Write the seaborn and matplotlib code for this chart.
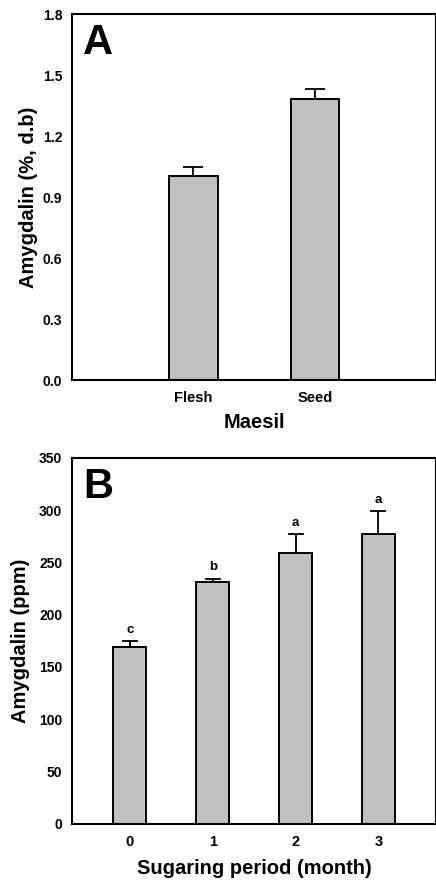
"""Amygdalin content in maesil flesh/seed and over the sugaring period."""

import matplotlib

matplotlib.use("Agg")
import matplotlib.pyplot as plt
import seaborn as sns


PARTS = ["Flesh", "Seed"]
PART_MEANS = [1.005, 1.385]
PART_ERRS = [0.043, 0.045]

MONTHS = ["0", "1", "2", "3"]
MONTH_MEANS = [169.5, 231.5, 258.5, 277.5]
MONTH_ERRS = [5.2, 2.8, 18.5, 21.5]
MONTH_LETTERS = ["c", "b", "a", "a"]

BAR_COLOR = "#c0c0c0"


def style_axis(ax, ymax, yticks, ticklabels_fmt):
    ax.set_ylim(0, ymax)
    ax.set_yticks(yticks)
    ax.set_yticklabels([ticklabels_fmt.format(t) for t in yticks])
    for spine in ax.spines.values():
        spine.set_visible(True)
        spine.set_linewidth(1.5)
        spine.set_color("black")
    ax.tick_params(axis="y", direction="in", length=4, width=1.3, pad=7,
                   labelsize=10)
    ax.tick_params(axis="x", length=0, pad=8, labelsize=10.5)
    for label in ax.get_xticklabels() + ax.get_yticklabels():
        label.set_fontweight("bold")


def draw_bars(ax, cats, means, errs, capsize):
    sns.barplot(x=cats, y=means, color=BAR_COLOR, saturation=1, width=0.4,
                edgecolor="black", linewidth=1.4, ax=ax, zorder=2)
    ax.errorbar(range(len(cats)), means, yerr=errs, fmt="none",
                ecolor="black", elinewidth=1.3, capsize=capsize,
                capthick=1.3, zorder=1)


sns.set_style("white")
plt.rcParams["font.family"] = ["Liberation Sans", "DejaVu Sans"]
plt.rcParams.update({
    "text.color": "black",
    "axes.labelcolor": "black",
    "xtick.color": "black",
    "ytick.color": "black",
})

fig = plt.figure(figsize=(4.36, 8.82), dpi=100)
ax_a = fig.add_axes([0.165, 0.569, 0.836, 0.415])
ax_b = fig.add_axes([0.165, 0.066, 0.836, 0.415])

# Panel A: flesh vs seed
draw_bars(ax_a, PARTS, PART_MEANS, PART_ERRS, capsize=7)
ax_a.set_xlim(-1, 2)
style_axis(ax_a, 1.8, [0.0, 0.3, 0.6, 0.9, 1.2, 1.5, 1.8], "{:.1f}")
ax_a.set_xlabel("Maesil", fontsize=14.5, fontweight="bold")
ax_a.set_ylabel("Amygdalin (%, d.b)", fontsize=14.5, fontweight="bold")
ax_a.xaxis.set_label_coords(0.5, -0.09)
ax_a.yaxis.set_label_coords(-0.094, 0.5)
ax_a.text(0.03, 0.975, "A", transform=ax_a.transAxes, fontsize=30,
          fontweight="bold", va="top", ha="left")

# Panel B: sugaring period
draw_bars(ax_b, MONTHS, MONTH_MEANS, MONTH_ERRS, capsize=5.5)
ax_b.set_xlim(-0.7, 3.7)
style_axis(ax_b, 350, list(range(0, 351, 50)), "{}")
for i, letter in enumerate(MONTH_LETTERS):
    ax_b.annotate(letter, (i, MONTH_MEANS[i] + MONTH_ERRS[i]),
                  xytext=(0, 4), textcoords="offset points", ha="center",
                  va="bottom", fontsize=9.5, fontweight="bold")
ax_b.set_xlabel("Sugaring period (month)", fontsize=14.5, fontweight="bold")
ax_b.set_ylabel("Amygdalin (ppm)", fontsize=14.5, fontweight="bold")
ax_b.xaxis.set_label_coords(0.5, -0.095)
ax_b.yaxis.set_label_coords(-0.114, 0.5)
ax_b.text(0.03, 0.975, "B", transform=ax_b.transAxes, fontsize=30,
          fontweight="bold", va="top", ha="left")

fig.savefig("out.png", dpi=100)
